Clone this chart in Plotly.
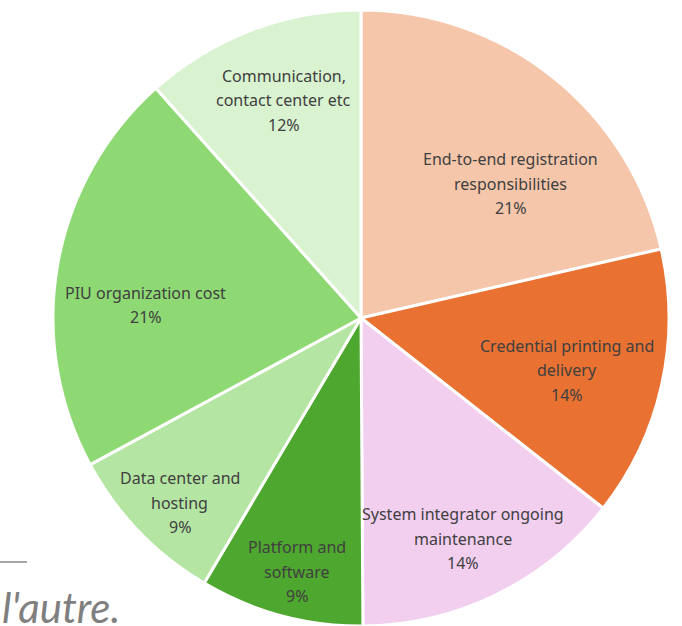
import math
import plotly.graph_objects as go

labels = [
    "End-to-end registration<br>responsibilities",
    "Credential printing and<br>delivery",
    "System integrator ongoing<br>maintenance",
    "Platform and<br>software",
    "Data center and<br>hosting",
    "PIU organization cost",
    "Communication,<br>contact center etc",
]
values = [21.4, 14.2, 14.3, 8.6, 8.6, 21.3, 11.6]
colors = ["#F5C6AA", "#E97132", "#F2CEEF", "#4EA72E", "#B4E5A2", "#8ED973", "#D9F2D0"]

# label placement style (radial fraction of radius, angular nudge in degrees)
label_rfrac = [0.653, 0.69, 0.79, 0.85, 0.84, 0.70, 0.75]
label_dang = [9.7, 1.7, 1.3, -0.9, -1.6, -6.5, 1.4]

W, H = 682, 626
dom_x = [53 / W, 669 / W]
dom_y = [0, 616 / H]

fig = go.Figure(go.Pie(
    labels=labels,
    values=values,
    sort=False,
    direction="clockwise",
    rotation=0,
    marker=dict(colors=colors, line=dict(color="white", width=3)),
    textinfo="none",
    hoverinfo="label+percent",
    showlegend=False,
    domain=dict(x=dom_x, y=dom_y),
))

# pie geometry in pixels (derived from the domain)
cx = (dom_x[0] + dom_x[1]) / 2 * W
cy = H - (dom_y[0] + dom_y[1]) / 2 * H
R = min((dom_x[1] - dom_x[0]) * W, (dom_y[1] - dom_y[0]) * H) / 2

total = sum(values)
cum = 0.0
line_gap = 24.5
for lab, v, rf, da in zip(labels, values, label_rfrac, label_dang):
    mid = (cum + v / 2) / total * 360 + da
    cum += v
    th = math.radians(mid)
    px = cx + R * rf * math.sin(th)
    py = cy - R * rf * math.cos(th)
    pct = round(v / total * 100)
    lines = lab.split("<br>") + [f"{pct}%"]
    n = len(lines)
    for i, ln in enumerate(lines):
        ly = py + (i - (n - 1) / 2) * line_gap
        fig.add_annotation(text=ln, xref="paper", yref="paper",
                           x=px / W, y=1 - ly / H, xanchor="center", yanchor="middle",
                           showarrow=False,
                           font=dict(family="Noto Sans", size=16, color="#404040"))

fig.add_shape(type="line", xref="paper", yref="paper",
              x0=0, x1=27 / W, y0=1 - 562 / H, y1=1 - 562 / H,
              line=dict(color="#8a8a8a", width=1.5))
fig.add_annotation(text="l'autre.", xref="paper", yref="paper",
                   x=0, y=1 - 623 / H, xanchor="left", yanchor="bottom",
                   yshift=-11, showarrow=False,
                   font=dict(family="Lato", size=42, color="#7f7f7f", style="italic"))

fig.update_layout(width=W, height=H, margin=dict(l=0, r=0, t=0, b=0),
                  paper_bgcolor="white", plot_bgcolor="white")
fig.write_html("out.html", config={"displayModeBar": False},
               post_script="document.body.style.margin='0';document.body.style.overflow='hidden';")
